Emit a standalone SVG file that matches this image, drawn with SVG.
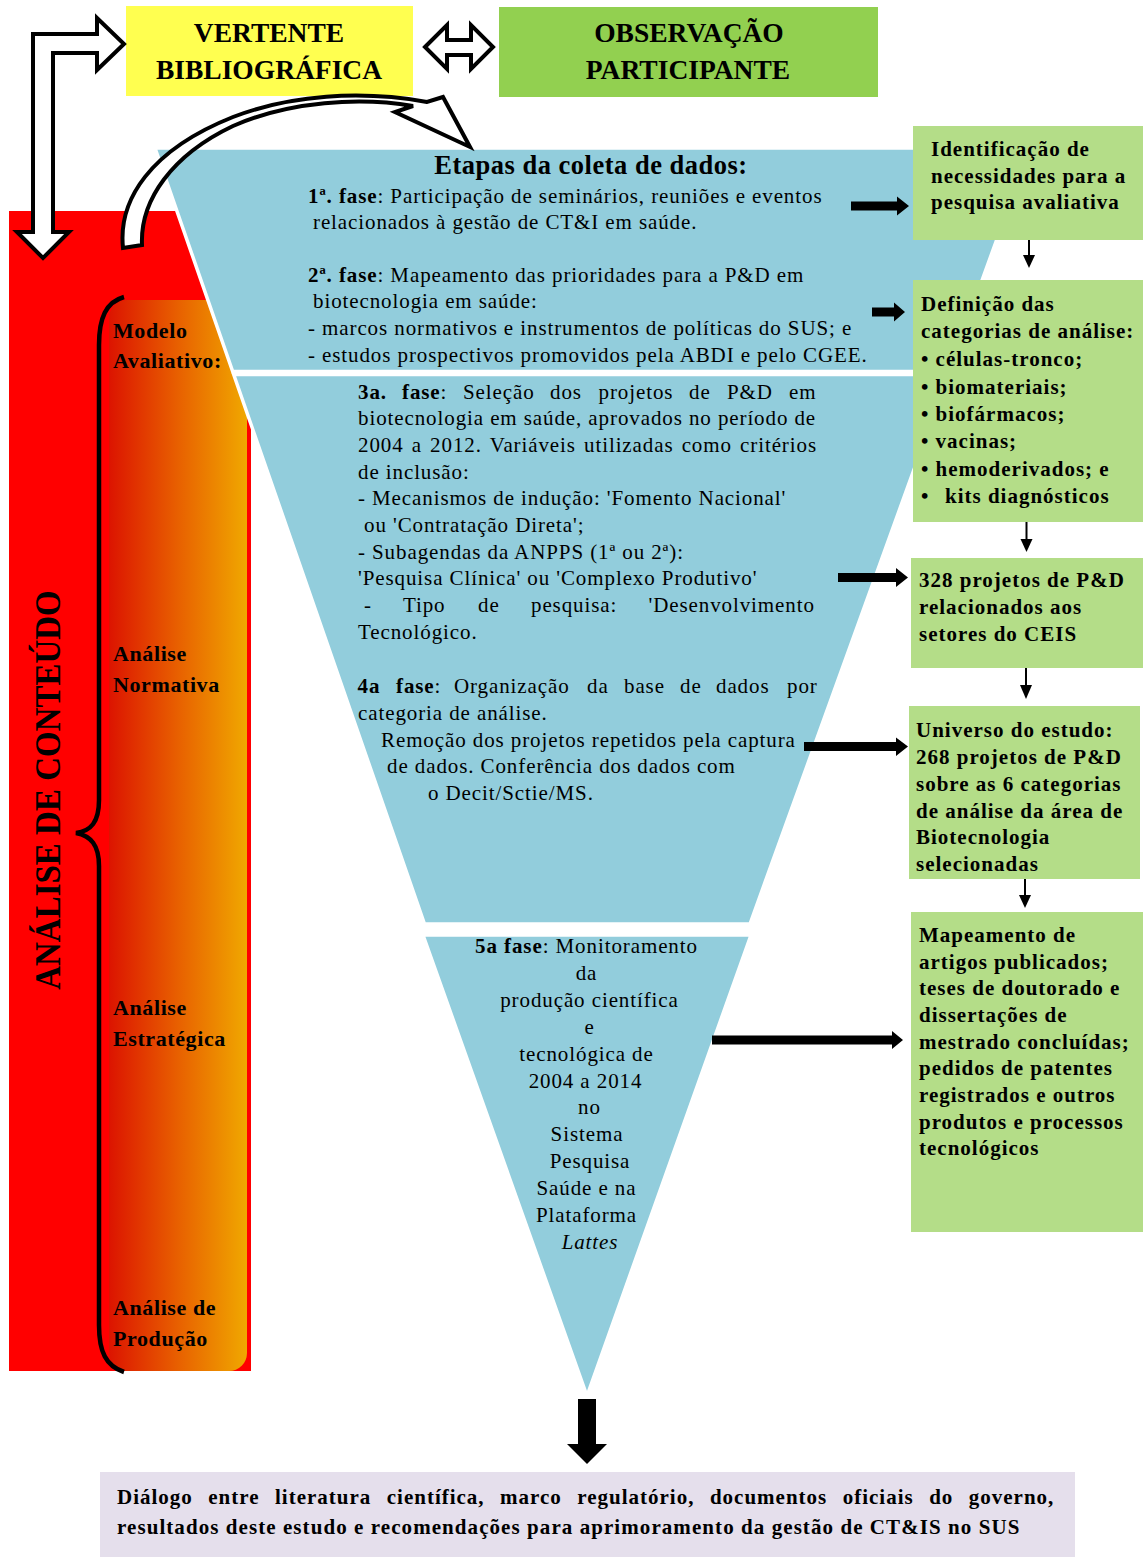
<svg xmlns="http://www.w3.org/2000/svg" width="1147" height="1559" viewBox="0 0 1147 1559">
<defs>
<linearGradient id="og" x1="0" y1="0" x2="1" y2="0">
<stop offset="0" stop-color="#DC1400"/>
<stop offset="0.5" stop-color="#E86000"/>
<stop offset="1" stop-color="#F0A800"/>
</linearGradient>
</defs>
<style>
text{font-family:"Liberation Serif","Times New Roman",serif;fill:#000}
.b{font-weight:bold}
.t{font-size:21px;letter-spacing:0.9px}
.bx{font-size:21px;font-weight:bold;letter-spacing:1px}
.hd{font-size:27.5px;font-weight:bold;text-anchor:middle}
.lb{font-size:22px;font-weight:bold;letter-spacing:0.6px}
.c{text-anchor:middle}
.blue{fill:#92CDDC;stroke:#fff;stroke-width:3.5}
.gbox{fill:#B4DD88}
.ol{fill:#fff;stroke:#000;stroke-width:4;stroke-linejoin:miter}
.thin{stroke:#000;stroke-width:2}
.fill{fill:#000}
</style>
<rect width="1147" height="1559" fill="#fff"/>

<g id="analise-conteudo">
<rect x="9" y="211" width="242" height="1160" fill="#FF0000"/>
<rect x="109" y="300" width="138" height="1071" rx="18" fill="url(#og)"/>
<text transform="translate(60,790) scale(1.1,1) rotate(-90)" class="b c" font-size="33">ANÁLISE DE CONTEÚDO</text>
<path d="M124,297 C106,302 99,318 99,345 L99,800 C99,822 91,831 76,833 C91,836 99,845 99,866 L99,1325 C99,1352 106,1366 124,1372" fill="none" stroke="#000" stroke-width="4.5"/>
</g>

<g id="vertente">
<rect x="126" y="6" width="287" height="90" fill="#FFFF50"/>
<text class="hd" x="269" y="42">VERTENTE</text>
<text class="hd" x="269" y="79">BIBLIOGRÁFICA</text>
</g>

<g id="observacao">
<rect x="499" y="7" width="379" height="90" fill="#92D050"/>
<text class="hd" x="689" y="42">OBSERVAÇÃO</text>
<text class="hd" x="688" y="79">PARTICIPANTE</text>
</g>

<g id="funil">
<polygon class="blue" points="155,148 1030,148 949,371.5 232.7,371.5"/>
<polygon class="blue" points="233.7,374.5 948.3,374.5 750,924 424.5,924"/>
<polygon class="blue" points="423,935 751,935 587,1396"/>
<text class="b" x="591" y="174" font-size="26.5" letter-spacing="0.5" text-anchor="middle">Etapas da coleta de dados:</text>
<text class="t" x="308" y="203"><tspan class="b">1ª. fase</tspan>: Participação de seminários, reuniões e eventos</text>
<text class="t" x="313" y="229">relacionados à gestão de CT&amp;I em saúde.</text>
<text class="t" x="308" y="282"><tspan class="b">2ª. fase</tspan>: Mapeamento das prioridades para a P&amp;D em</text>
<text class="t" x="313" y="308">biotecnologia em saúde:</text>
<text class="t" x="308" y="335">- marcos normativos e instrumentos de políticas do SUS; e</text>
<text class="t" x="308" y="362">- estudos prospectivos promovidos pela ABDI e pelo CGEE.</text>

<text class="t" y="399"><tspan x="358" class="b">3a.</tspan><tspan x="402" class="b">fase</tspan><tspan>:</tspan><tspan x="463">Seleção</tspan><tspan x="550">dos</tspan><tspan x="598.5">projetos</tspan><tspan x="689">de</tspan><tspan x="727">P&amp;D</tspan><tspan x="789">em</tspan></text>
<text class="t" x="358" y="425">biotecnologia em saúde, aprovados no período de</text>
<text class="t" x="358" y="452" word-spacing="2">2004 a 2012. Variáveis utilizadas como critérios</text>
<text class="t" x="358" y="479">de inclusão:</text>
<text class="t" x="358" y="505">- Mecanismos de indução: 'Fomento Nacional'</text>
<text class="t" x="364" y="532">ou 'Contratação Direta';</text>
<text class="t" x="358" y="559">- Subagendas da ANPPS (1ª ou 2ª):</text>
<text class="t" x="358" y="585">'Pesquisa Clínica' ou 'Complexo Produtivo'</text>
<text class="t" y="612"><tspan x="364">-</tspan><tspan x="403">Tipo</tspan><tspan x="478">de</tspan><tspan x="531">pesquisa:</tspan><tspan x="648.5">'Desenvolvimento</tspan></text>
<text class="t" x="358" y="639">Tecnológico.</text>

<text class="t" y="693"><tspan x="357.5" class="b">4a</tspan><tspan x="396" class="b">fase</tspan><tspan>:</tspan><tspan x="454">Organização</tspan><tspan x="587">da</tspan><tspan x="624">base</tspan><tspan x="680">de</tspan><tspan x="716">dados</tspan><tspan x="787">por</tspan></text>
<text class="t" x="358" y="720">categoria de análise.</text>
<text class="t" x="381" y="747">Remoção dos projetos repetidos pela captura</text>
<text class="t" x="387" y="773">de dados. Conferência dos dados com</text>
<text class="t" x="428" y="800">o Decit/Sctie/MS.</text>

<text class="t c" x="586.5" y="953"><tspan class="b">5a fase</tspan>: Monitoramento</text>
<text class="t c" x="586.5" y="980">da</text>
<text class="t c" x="589.5" y="1007">produção científica</text>
<text class="t c" x="589.5" y="1034">e</text>
<text class="t c" x="586.5" y="1061">tecnológica de</text>
<text class="t c" x="585.5" y="1088">2004 a 2014</text>
<text class="t c" x="589.5" y="1114">no</text>
<text class="t c" x="587" y="1141">Sistema</text>
<text class="t c" x="590" y="1168">Pesquisa</text>
<text class="t c" x="586.5" y="1195">Saúde e na</text>
<text class="t c" x="586.5" y="1222">Plataforma</text>
<text class="t c" x="590" y="1249" font-style="italic">Lattes</text>
</g>

<g id="rotulos-modelo">
<text class="lb" x="113" y="338">Modelo</text>
<text class="lb" x="113" y="368">Avaliativo:</text>
<text class="lb" x="113" y="661">Análise</text>
<text class="lb" x="113" y="692">Normativa</text>
<text class="lb" x="113" y="1015">Análise</text>
<text class="lb" x="113" y="1046">Estratégica</text>
<text class="lb" x="113" y="1315">Análise de</text>
<text class="lb" x="113" y="1346">Produção</text>
</g>

<g id="box-identificacao">
<rect class="gbox" x="913" y="126" width="230" height="114"/>
<text class="bx" x="931" y="156">Identificação de</text>
<text class="bx" x="931" y="183">necessidades para a</text>
<text class="bx" x="931" y="209">pesquisa avaliativa</text>
</g>

<g id="box-categorias">
<rect class="gbox" x="913" y="280" width="230" height="242"/>
<text class="bx" x="921" y="311">Definição das</text>
<text class="bx" x="921" y="338">categorias de análise:</text>
<text class="bx" x="921" y="366">• células-tronco;</text>
<text class="bx" x="921" y="394">• biomateriais;</text>
<text class="bx" x="921" y="421">• biofármacos;</text>
<text class="bx" x="921" y="448">• vacinas;</text>
<text class="bx" x="921" y="476">• hemoderivados; e</text>
<text class="bx" x="921" y="503">•<tspan x="945">kits diagnósticos</tspan></text>
</g>

<g id="box-328">
<rect class="gbox" x="911" y="558" width="232" height="110"/>
<text class="bx" x="919" y="587">328 projetos de P&amp;D</text>
<text class="bx" x="919" y="614">relacionados aos</text>
<text class="bx" x="919" y="641">setores do CEIS</text>
</g>

<g id="box-universo">
<rect class="gbox" x="909" y="706" width="231" height="173"/>
<text class="bx" x="916" y="737">Universo do estudo:</text>
<text class="bx" x="916" y="764">268 projetos de P&amp;D</text>
<text class="bx" x="916" y="791">sobre as 6 categorias</text>
<text class="bx" x="916" y="818">de análise da área de</text>
<text class="bx" x="916" y="844">Biotecnologia</text>
<text class="bx" x="916" y="871">selecionadas</text>
</g>

<g id="box-mapeamento">
<rect class="gbox" x="911" y="912" width="232" height="320"/>
<text class="bx" x="919" y="942">Mapeamento de</text>
<text class="bx" x="919" y="968.7">artigos publicados;</text>
<text class="bx" x="919" y="995.3">teses de doutorado e</text>
<text class="bx" x="919" y="1022">dissertações de</text>
<text class="bx" x="919" y="1048.6">mestrado concluídas;</text>
<text class="bx" x="919" y="1075.3">pedidos de patentes</text>
<text class="bx" x="919" y="1102">registrados e outros</text>
<text class="bx" x="919" y="1128.6">produtos e processos</text>
<text class="bx" x="919" y="1155.2">tecnológicos</text>
</g>

<g id="dialogo">
<rect x="100" y="1472" width="975" height="85" fill="#E5DFEC"/>
<text class="bx" x="117" y="1504" word-spacing="9.2">Diálogo entre literatura científica, marco regulatório, documentos oficiais do governo,</text>
<text class="bx" x="117" y="1534" style="letter-spacing:1.07px">resultados deste estudo e recomendações para aprimoramento da gestão de CT&amp;IS no SUS</text>
</g>

<g id="conectores">
<polygon class="ol" points="33,232 33,34 97,34 97,18 124,44 97,70 97,53 53,53 53,232 69,232 43,258 17,232"/>
<polygon class="ol" points="425,47 447,25 447,40 471,40 471,25 493,47 471,69 471,55 447,55 447,69"/>
<path class="ol" stroke-width="3.5" d="M123,248 C118,200 150,150 233,117 C290,95 360,90 427,102 L443,97 L470,147 L395,112 L413,106 C360,97 290,101 233,126 C172,155 140,200 142,245 Z"/>
<polygon class="fill" points="851,201.5 897,201.5 897,196.5 909,206 897,215.5 897,210.5 851,210.5"/>
<polygon class="fill" points="872,307.5 894,307.5 894,302.5 905,312 894,321.5 894,316.5 872,316.5"/>
<polygon class="fill" points="838,573 896,573 896,568 908,577.5 896,587 896,582 838,582"/>
<polygon class="fill" points="804,742 896,742 896,737.5 908,746.5 896,756 896,751 804,751"/>
<polygon class="fill" points="712,1035.5 892,1035.5 892,1031 903,1040 892,1049 892,1044.5 712,1044.5"/>
<line class="thin" x1="1029" y1="240" x2="1029" y2="256"/>
<polygon class="fill" points="1023,255 1035,255 1029,268"/>
<line class="thin" x1="1026.5" y1="522" x2="1026.5" y2="540"/>
<polygon class="fill" points="1020.5,539 1032.5,539 1026.5,552"/>
<line class="thin" x1="1026" y1="668" x2="1026" y2="686"/>
<polygon class="fill" points="1020,685 1032,685 1026,699"/>
<line class="thin" x1="1025" y1="879" x2="1025" y2="896"/>
<polygon class="fill" points="1019,895 1031,895 1025,908"/>
<polygon class="fill" points="578,1399 596,1399 596,1444 607,1444 587,1464 567,1444 578,1444"/>
</g>
</svg>
